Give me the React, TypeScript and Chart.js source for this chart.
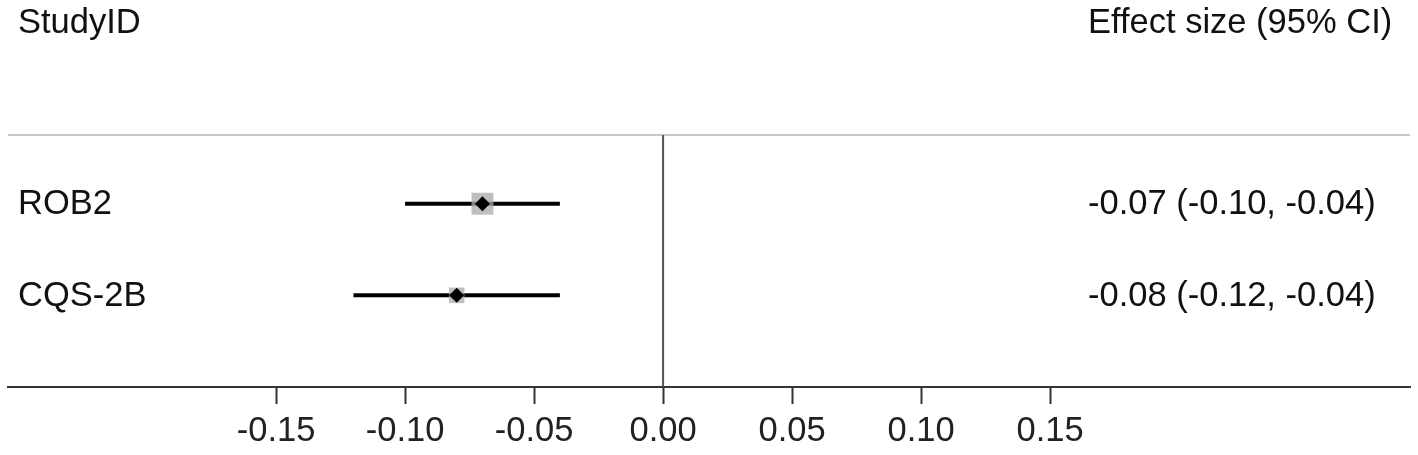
import React, { useEffect, useRef } from "react";
import { Chart, registerables } from "chart.js";

Chart.register(...registerables);

const studies = ["ROB2", "CQS-2B"];
const effects = [-0.07, -0.08];
const lowerCI = [-0.1, -0.12];
const upperCI = [-0.04, -0.04];
const weights = [15.5, 11];
const effectLabels = ["-0.07 (-0.10, -0.04)", "-0.08 (-0.12, -0.04)"];
const xTicks = [-0.15, -0.1, -0.05, 0, 0.05, 0.1, 0.15];
const headerLeft = "StudyID";
const headerRight = "Effect size (95% CI)";

const FONT = "'Liberation Sans', Arial, Helvetica, sans-serif";
const FONT_SIZE = 34.5;

export default function App() {
  const ref = useRef<HTMLCanvasElement | null>(null);

  useEffect(() => {
    const canvas = ref.current;
    if (!canvas) return;

    const rows = studies.map((_, i) => i + 1);

    const ciDatasets = studies.map((s, i) => ({
      type: "line" as const,
      label: s + " CI",
      data: [
        { x: lowerCI[i], y: rows[i] },
        { x: upperCI[i], y: rows[i] },
      ],
      showLine: true,
      borderColor: "#000",
      borderWidth: 4,
      pointRadius: 0,
      order: 2,
    }));

    const textPlugin = {
      id: "forestText",
      beforeDatasetsDraw(chart: any) {
        const { ctx, chartArea } = chart;
        ctx.save();
        ctx.strokeStyle = "#c8c8c8";
        ctx.lineWidth = 2;
        ctx.beginPath();
        ctx.moveTo(chartArea.left, chartArea.top);
        ctx.lineTo(chartArea.right, chartArea.top);
        ctx.stroke();
        ctx.restore();
      },
      afterDraw(chart: any) {
        const { ctx } = chart;
        const yScale = chart.scales.y;
        ctx.save();
        ctx.fillStyle = "#111";
        ctx.font = `${FONT_SIZE}px ${FONT}`;
        ctx.textAlign = "left";
        ctx.textBaseline = "alphabetic";
        ctx.fillText(headerLeft, 18, 33);
        ctx.fillText(headerRight, 1088, 33);
        ctx.textBaseline = "middle";
        studies.forEach((s, i) => {
          const y = yScale.getPixelForValue(rows[i]) + 1;
          ctx.fillText(s, 18, y);
          ctx.fillText(effectLabels[i], 1088, y);
        });
        ctx.restore();
      },
    };

    const chart = new Chart(canvas, {
      type: "scatter",
      data: {
        datasets: [
          {
            type: "scatter",
            label: "Effect",
            data: effects.map((v, i) => ({ x: v, y: rows[i] })),
            pointStyle: "rectRot",
            pointRadius: 7.5,
            backgroundColor: "#000",
            borderColor: "#000",
            borderWidth: 0,
            order: 0,
          },
          {
            type: "scatter",
            label: "Weight",
            data: effects.map((v, i) => ({ x: v, y: rows[i] })),
            pointStyle: "rect",
            pointRadius: weights,
            backgroundColor: "rgba(170,170,170,0.75)",
            borderWidth: 0,
            order: 1,
          },
          ...ciDatasets,
          {
            type: "line",
            label: "Zero",
            data: [
              { x: 0, y: 0.25 },
              { x: 0, y: 3.0 },
            ],
            showLine: true,
            borderColor: "#555",
            borderWidth: 2,
            pointRadius: 0,
            order: 3,
          },
        ] as any,
      },
      options: {
        animation: false,
        responsive: false,
        layout: { autoPadding: false, padding: { left: 8, right: 8, top: 135, bottom: 0 } },
        plugins: {
          legend: { display: false },
          tooltip: { enabled: false },
          title: { display: false },
        },
        scales: {
          x: {
            type: "linear",
            min: -0.2539,
            max: 0.2895,
            afterBuildTicks: (scale: any) => {
              scale.ticks = xTicks.map((v) => ({ value: v }));
            },
            afterFit: (scale: any) => {
              scale.height = 68;
            },
            border: { display: true, color: "#333", width: 2 },
            grid: {
              display: true,
              drawOnChartArea: false,
              drawTicks: true,
              tickLength: 17,
              tickColor: "#333",
              tickWidth: 2,
            },
            ticks: {
              padding: 7,
              color: "#222",
              font: { family: FONT, size: FONT_SIZE },
              maxRotation: 0,
              autoSkip: false,
              callback: (v: any) => Number(v).toFixed(2),
            },
          },
          y: {
            type: "linear",
            display: false,
            reverse: true,
            min: 0.25,
            max: 3.0,
          },
        },
      },
      plugins: [textPlugin],
    } as any);

    return () => chart.destroy();
  }, []);

  return (
    <div style={{ position: "absolute", left: 0, top: 0, background: "#fff" }}>
      <canvas ref={ref} width={1418} height={455} style={{ display: "block", width: 1418, height: 455 }} />
    </div>
  );
}
